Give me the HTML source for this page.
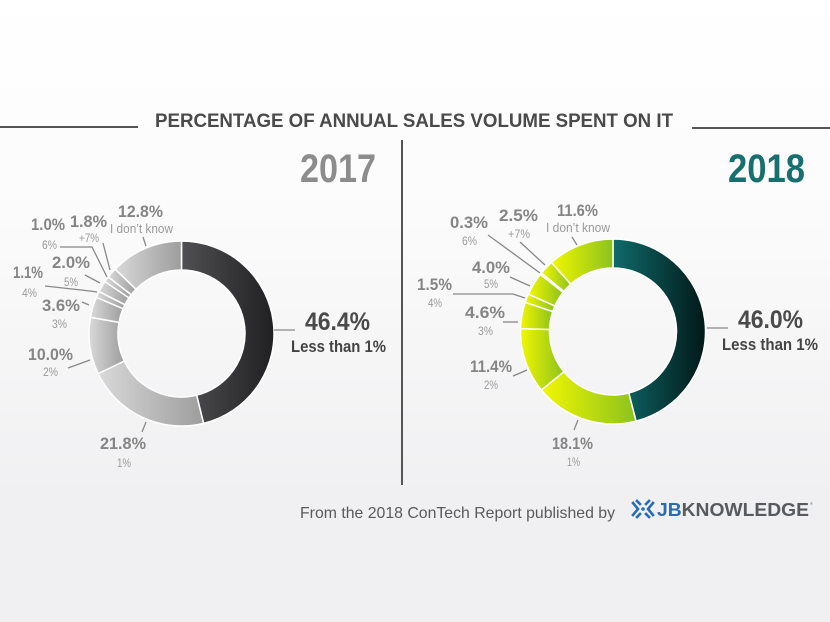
<!DOCTYPE html>
<html>
<head>
<meta charset="utf-8">
<style>
html,body{margin:0;padding:0;width:830px;height:622px;overflow:hidden;background:#f0f0f2;}
svg{display:block;}
text{font-family:"Liberation Sans",Arial,sans-serif;}
</style>
</head>
<body>
<svg width="830" height="622" viewBox="0 0 830 622" xmlns="http://www.w3.org/2000/svg">
<defs>
  <linearGradient id="bg" x1="0" y1="0" x2="0" y2="1">
    <stop offset="0" stop-color="#ffffff"/>
    <stop offset="0.35" stop-color="#fbfbfb"/>
    <stop offset="0.8" stop-color="#f0f0f2"/>
    <stop offset="1" stop-color="#f0f0f2"/>
  </linearGradient>
  <linearGradient id="dark" x1="0" y1="0" x2="1" y2="0">
    <stop offset="0" stop-color="#505053"/>
    <stop offset="1" stop-color="#202022"/>
  </linearGradient>
  <linearGradient id="gray" x1="0" y1="0" x2="1" y2="0">
    <stop offset="0" stop-color="#d9d9d9"/>
    <stop offset="1" stop-color="#9d9d9d"/>
  </linearGradient>
  <linearGradient id="teal" x1="0" y1="0" x2="1" y2="0">
    <stop offset="0" stop-color="#0f6b6b"/>
    <stop offset="1" stop-color="#021818"/>
  </linearGradient>
  <linearGradient id="lime" x1="0" y1="0" x2="1" y2="0">
    <stop offset="0" stop-color="#f2f700"/>
    <stop offset="1" stop-color="#8cc21e"/>
  </linearGradient>
</defs>

<rect x="0" y="0" width="830" height="622" fill="url(#bg)"/>

<!-- Title -->
<line x1="0" y1="127" x2="138" y2="127" stroke="#555" stroke-width="2"/>
<line x1="692" y1="128" x2="830" y2="128" stroke="#555" stroke-width="2"/>
<text x="155" y="127" font-size="19.5" font-weight="bold" fill="#4a4a4a" textLength="518" lengthAdjust="spacingAndGlyphs">PERCENTAGE OF ANNUAL SALES VOLUME SPENT ON IT</text>

<!-- Divider -->
<line x1="402" y1="140" x2="402" y2="485" stroke="#555" stroke-width="2"/>

<!-- Years -->
<text x="300" y="182" font-size="40" font-weight="bold" fill="#8c8c8c" textLength="76" lengthAdjust="spacingAndGlyphs">2017</text>
<text x="728" y="182" font-size="40" font-weight="bold" fill="#17706f" textLength="77" lengthAdjust="spacingAndGlyphs">2018</text>

<!-- 2017 donut -->
<g stroke="#ffffff" stroke-width="1.5" stroke-linejoin="miter">
  <path fill="url(#dark)" d="M181.5,241 A92.5,92.5 0 0 1 203.55,423.34 L196.64,395.17 A63.5,63.5 0 0 0 181.5,270 Z"/>
  <path fill="url(#gray)" d="M203.55,423.34 A92.5,92.5 0 0 1 98.15,373.62 L124.28,361.04 A63.5,63.5 0 0 0 196.64,395.17 Z"/>
  <path fill="url(#gray)" d="M98.15,373.62 A92.5,92.5 0 0 1 90.44,317.25 L118.99,322.34 A63.5,63.5 0 0 0 124.28,361.04 Z"/>
  <path fill="url(#gray)" d="M90.44,317.25 A92.5,92.5 0 0 1 96.36,297.33 L123.05,308.67 A63.5,63.5 0 0 0 118.99,322.34 Z"/>
  <path fill="url(#gray)" d="M96.36,297.33 A92.5,92.5 0 0 1 99.05,291.56 L124.90,304.71 A63.5,63.5 0 0 0 123.05,308.67 Z"/>
  <path fill="url(#gray)" d="M99.05,291.56 A92.5,92.5 0 0 1 104.93,281.61 L128.93,297.88 A63.5,63.5 0 0 0 124.90,304.71 Z"/>
  <path fill="url(#gray)" d="M104.93,281.61 A92.5,92.5 0 0 1 108.31,276.94 L131.26,294.67 A63.5,63.5 0 0 0 128.93,297.88 Z"/>
  <path fill="url(#gray)" d="M108.31,276.94 A92.5,92.5 0 0 1 115.13,269.07 L135.94,289.27 A63.5,63.5 0 0 0 131.26,294.67 Z"/>
  <path fill="url(#gray)" d="M115.13,269.07 A92.5,92.5 0 0 1 181.5,241 L181.5,270 A63.5,63.5 0 0 0 135.94,289.27 Z"/>
</g>

<!-- 2018 donut -->
<g stroke="#ffffff" stroke-width="1.5" stroke-linejoin="miter">
  <path fill="url(#teal)" d="M613,239 A92.5,92.5 0 0 1 636.00,421.10 L628.79,393.01 A63.5,63.5 0 0 0 613,268 Z"/>
  <path fill="url(#lime)" d="M636.00,421.10 A92.5,92.5 0 0 1 541.36,390.02 L563.82,371.67 A63.5,63.5 0 0 0 628.79,393.01 Z"/>
  <path fill="url(#lime)" d="M541.36,390.02 A92.5,92.5 0 0 1 520.55,328.60 L549.53,329.51 A63.5,63.5 0 0 0 563.82,371.67 Z"/>
  <path fill="url(#lime)" d="M520.55,328.60 A92.5,92.5 0 0 1 525.21,302.36 L552.73,311.50 A63.5,63.5 0 0 0 549.53,329.51 Z"/>
  <path fill="url(#lime)" d="M525.21,302.36 A92.5,92.5 0 0 1 528.33,294.22 L554.88,305.91 A63.5,63.5 0 0 0 552.73,311.50 Z"/>
  <path fill="url(#lime)" d="M528.33,294.22 A92.5,92.5 0 0 1 540.26,274.36 L563.06,292.28 A63.5,63.5 0 0 0 554.88,305.91 Z"/>
  <path fill="url(#lime)" d="M540.26,274.36 A92.5,92.5 0 0 1 541.36,272.98 L563.82,291.33 A63.5,63.5 0 0 0 563.06,292.28 Z"/>
  <path fill="url(#lime)" d="M541.36,272.98 A92.5,92.5 0 0 1 551.39,262.49 L570.71,284.13 A63.5,63.5 0 0 0 563.82,291.33 Z"/>
  <path fill="url(#lime)" d="M551.39,262.49 A92.5,92.5 0 0 1 613,239 L613,268 A63.5,63.5 0 0 0 570.71,284.13 Z"/>
</g>

<!-- 2017 leader lines -->
<g stroke="#888" stroke-width="1.3" fill="none">
  <line x1="143" y1="237" x2="146" y2="246"/>
  <polyline points="60,247 92,247 107,277"/>
  <line x1="103" y1="243" x2="110" y2="270"/>
  <line x1="85" y1="275" x2="100" y2="283"/>
  <polyline points="45,286 90,291 97,292"/>
  <line x1="82" y1="302" x2="89" y2="305"/>
  <line x1="68" y1="368" x2="90" y2="360"/>
  <line x1="142" y1="432" x2="146" y2="422"/>
  <line x1="274" y1="330" x2="295" y2="330"/>
</g>

<!-- 2018 leader lines -->
<g stroke="#888" stroke-width="1.3" fill="none">
  <line x1="572" y1="237" x2="577" y2="245"/>
  <line x1="520" y1="242" x2="545" y2="265"/>
  <line x1="488" y1="235" x2="540" y2="273"/>
  <line x1="510" y1="277" x2="530" y2="286"/>
  <polyline points="453,294 513,294 525,298"/>
  <line x1="503" y1="322" x2="518" y2="322"/>
  <line x1="513" y1="376" x2="527" y2="370"/>
  <line x1="574" y1="430" x2="578" y2="420"/>
  <line x1="707" y1="328" x2="728" y2="328"/>
</g>

<!-- 2017 labels -->
<g font-weight="bold" fill="#858585" font-size="16.5">
  <text x="118" y="217" textLength="45" lengthAdjust="spacingAndGlyphs">12.8%</text>
  <text x="31" y="230" textLength="34" lengthAdjust="spacingAndGlyphs">1.0%</text>
  <text x="70" y="227" textLength="37" lengthAdjust="spacingAndGlyphs">1.8%</text>
  <text x="52" y="268" textLength="38" lengthAdjust="spacingAndGlyphs">2.0%</text>
  <text x="13" y="278" textLength="30" lengthAdjust="spacingAndGlyphs">1.1%</text>
  <text x="42" y="311" textLength="38" lengthAdjust="spacingAndGlyphs">3.6%</text>
  <text x="28" y="360" textLength="45" lengthAdjust="spacingAndGlyphs">10.0%</text>
  <text x="100" y="449" textLength="46" lengthAdjust="spacingAndGlyphs">21.8%</text>
</g>
<g fill="#9a9a9a" font-size="11.5">
  <text x="110" y="233" font-size="12.5" textLength="63" lengthAdjust="spacingAndGlyphs">I don’t know</text>
  <text x="79" y="242" textLength="20" lengthAdjust="spacingAndGlyphs">+7%</text>
  <text x="42" y="249" textLength="15" lengthAdjust="spacingAndGlyphs">6%</text>
  <text x="64" y="286" textLength="14" lengthAdjust="spacingAndGlyphs">5%</text>
  <text x="22" y="297" textLength="15" lengthAdjust="spacingAndGlyphs">4%</text>
  <text x="52" y="328" textLength="15" lengthAdjust="spacingAndGlyphs">3%</text>
  <text x="43" y="376" textLength="15" lengthAdjust="spacingAndGlyphs">2%</text>
  <text x="117" y="467" textLength="14" lengthAdjust="spacingAndGlyphs">1%</text>
</g>
<text x="305" y="330" font-size="25" font-weight="bold" fill="#4a4a4a" textLength="65" lengthAdjust="spacingAndGlyphs">46.4%</text>
<text x="291" y="352" font-size="17" font-weight="bold" fill="#444" textLength="95" lengthAdjust="spacingAndGlyphs">Less than 1%</text>

<!-- 2018 labels -->
<g font-weight="bold" fill="#858585" font-size="16.5">
  <text x="557" y="216" textLength="41" lengthAdjust="spacingAndGlyphs">11.6%</text>
  <text x="499" y="221" textLength="39" lengthAdjust="spacingAndGlyphs">2.5%</text>
  <text x="450" y="228" textLength="38" lengthAdjust="spacingAndGlyphs">0.3%</text>
  <text x="472" y="273" textLength="38" lengthAdjust="spacingAndGlyphs">4.0%</text>
  <text x="417" y="290" textLength="35" lengthAdjust="spacingAndGlyphs">1.5%</text>
  <text x="465" y="318" textLength="40" lengthAdjust="spacingAndGlyphs">4.6%</text>
  <text x="470" y="372" textLength="42" lengthAdjust="spacingAndGlyphs">11.4%</text>
  <text x="552" y="449" textLength="41" lengthAdjust="spacingAndGlyphs">18.1%</text>
</g>
<g fill="#9a9a9a" font-size="11.5">
  <text x="546" y="232" font-size="12.5" textLength="64" lengthAdjust="spacingAndGlyphs">I don’t know</text>
  <text x="508" y="238" textLength="22" lengthAdjust="spacingAndGlyphs">+7%</text>
  <text x="462" y="245" textLength="15" lengthAdjust="spacingAndGlyphs">6%</text>
  <text x="484" y="288" textLength="14" lengthAdjust="spacingAndGlyphs">5%</text>
  <text x="428" y="307" textLength="14" lengthAdjust="spacingAndGlyphs">4%</text>
  <text x="478" y="335" textLength="15" lengthAdjust="spacingAndGlyphs">3%</text>
  <text x="484" y="389" textLength="14" lengthAdjust="spacingAndGlyphs">2%</text>
  <text x="567" y="466" textLength="13" lengthAdjust="spacingAndGlyphs">1%</text>
</g>
<text x="738" y="328" font-size="25" font-weight="bold" fill="#4a4a4a" textLength="65" lengthAdjust="spacingAndGlyphs">46.0%</text>
<text x="722" y="350" font-size="17" font-weight="bold" fill="#444" textLength="96" lengthAdjust="spacingAndGlyphs">Less than 1%</text>

<!-- Footer -->
<text x="300" y="518" font-size="16" fill="#5a5a5a" textLength="315" lengthAdjust="spacingAndGlyphs">From the 2018 ConTech Report published by</text>
<g fill="none" stroke="#2a6cb4" stroke-width="2.6" stroke-linecap="square">
  <polyline points="633,503 638,509 633,515"/>
  <polyline points="653,503 648,509 653,515"/>
  <line x1="637" y1="501" x2="640" y2="504"/>
  <line x1="649" y1="501" x2="646" y2="504"/>
  <line x1="637" y1="517" x2="640" y2="514"/>
  <line x1="649" y1="517" x2="646" y2="514"/>
</g>
<circle cx="643" cy="509" r="1.8" fill="#2a6cb4"/>
<text x="657" y="516" font-size="18.5" font-weight="bold" textLength="152" lengthAdjust="spacingAndGlyphs"><tspan fill="#2a6cb4">JB</tspan><tspan fill="#575a5e">KNOWLEDGE</tspan></text>
<text x="810" y="505" font-size="4" fill="#777">®</text>
</svg>
</body>
</html>
